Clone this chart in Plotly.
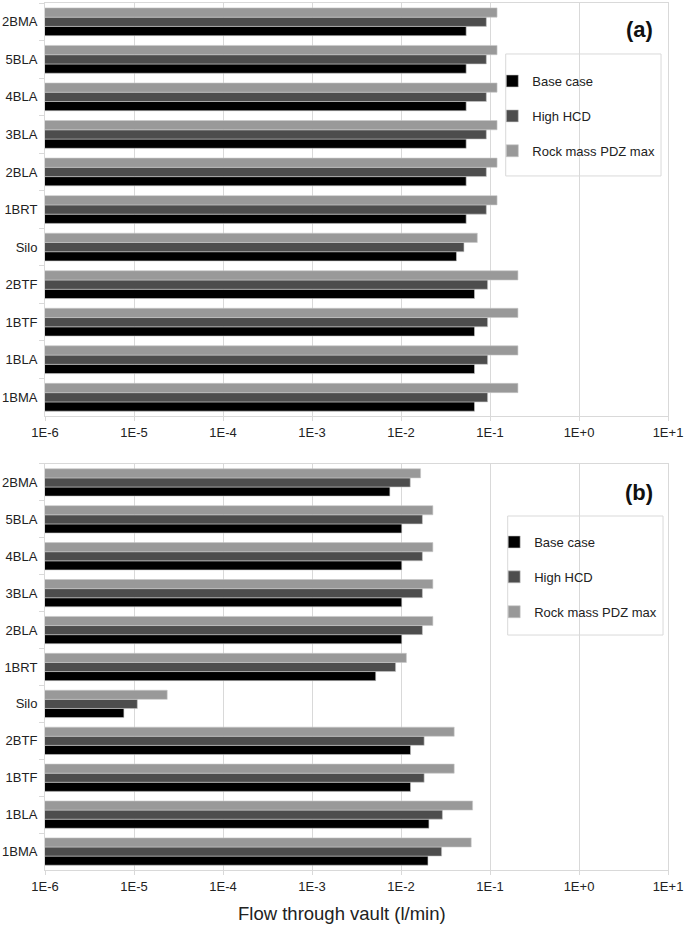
import plotly.graph_objects as go
from plotly.subplots import make_subplots

# categories, bottom to top
vaults = ["1BMA", "1BLA", "1BTF", "2BTF", "Silo", "1BRT", "2BLA", "3BLA", "4BLA", "5BLA", "2BMA"]

# panel (a)
a_base = [0.067, 0.067, 0.067, 0.067, 0.042, 0.054, 0.054, 0.054, 0.054, 0.054, 0.054]
a_hcd = [0.094, 0.094, 0.094, 0.094, 0.051, 0.091, 0.091, 0.091, 0.091, 0.091, 0.091]
a_rock = [0.206, 0.206, 0.206, 0.206, 0.072, 0.12, 0.12, 0.12, 0.12, 0.12, 0.12]

# panel (b)
b_base = [0.0201, 0.0206, 0.0128, 0.0128, 7.7e-6, 0.0052, 0.0102, 0.0102, 0.0102, 0.0102, 0.0075]
b_hcd = [0.0286, 0.0292, 0.0182, 0.0182, 1.09e-5, 0.0087, 0.0174, 0.0174, 0.0174, 0.0174, 0.0127]
b_rock = [0.0615, 0.0637, 0.0396, 0.0396, 2.36e-5, 0.0115, 0.0228, 0.0228, 0.0228, 0.0228, 0.0166]

series_names = ["Base case", "High HCD", "Rock mass PDZ max"]
colors = ["#000000", "#4d4d4d", "#999999"]

tick_vals = [1e-6, 1e-5, 1e-4, 1e-3, 1e-2, 1e-1, 1, 10]
tick_text = ["1E-6", "1E-5", "1E-4", "1E-3", "1E-2", "1E-1", "1E+0", "1E+1"]

FONT = "Liberation Sans, Arial"
GRID = "#d9d9d9"

fig = make_subplots(rows=2, cols=1)

panels = [(1, "legend", [a_base, a_hcd, a_rock]), (2, "legend2", [b_base, b_hcd, b_rock])]
for row, leg, data in panels:
    for name, col, vals in zip(series_names, colors, data):
        fig.add_trace(go.Bar(
            y=vaults, x=vals, name=name, orientation="h",
            marker=dict(color=col, line=dict(color="#c8c8c8", width=0.6)),
            legend=leg, legendgroup=name + leg,
        ), row=row, col=1)

legend_style = dict(xanchor="left", yanchor="top", borderwidth=0, bgcolor="rgba(0,0,0,0)",
                    tracegroupgap=15, itemwidth=30,
                    font=dict(family=FONT, size=13, color="#222"))

fig.update_layout(
    width=685, height=933,
    margin=dict(l=45, r=17, t=3, b=63),
    barmode="group", bargap=0.26, bargroupgap=0,
    plot_bgcolor="white", paper_bgcolor="white",
    font=dict(family=FONT, size=13, color="#222"),
    showlegend=True,
    legend=dict(x=0.718, y=0.9273, **legend_style),
    legend2=dict(x=0.721, y=0.3956, **legend_style),
)

fig.update_layout(yaxis=dict(domain=[0.5236, 1.0]), yaxis2=dict(domain=[0.0, 0.4683]))

# legend frames
fig.add_shape(type="rect", xref="paper", yref="paper", x0=0.7395, x1=0.9888, y0=0.8005, y1=0.9412,
              line=dict(color=GRID, width=1), fillcolor="white", layer="below")
fig.add_shape(type="rect", xref="paper", yref="paper", x0=0.7427, x1=0.992, y0=0.2710, y1=0.4083,
              line=dict(color=GRID, width=1), fillcolor="white", layer="below")

fig.update_xaxes(type="log", range=[-6, 1], tickvals=tick_vals, ticktext=tick_text,
                 showgrid=True, gridcolor=GRID, showline=True, linecolor=GRID, mirror=True,
                 ticks="outside", ticklen=4, tickcolor=GRID, zeroline=False, automargin=False,
                 tickfont=dict(family=FONT, size=13))
fig.update_yaxes(showline=True, linecolor=GRID, mirror=True, ticks="outside",
                 ticklen=5, tickcolor=GRID, tickson="boundaries", showgrid=False,
                 automargin=False, ticklabelstandoff=4, tickfont=dict(family=FONT, size=13))

# x axis title
fig.add_annotation(text="Flow through vault (l/min)", xref="paper", yref="paper",
                   x=0.4767, y=-0.0496, xanchor="center", yanchor="middle", showarrow=False,
                   font=dict(family=FONT, size=18.5, color="#222"))

fig.add_annotation(text="<b>(a)</b>", xref="paper", yref="paper", x=0.979, y=0.969,
                   xanchor="right", yanchor="middle", showarrow=False,
                   font=dict(family=FONT, size=22, color="#111"))
fig.add_annotation(text="<b>(b)</b>", xref="paper", yref="paper", x=0.979, y=0.435,
                   xanchor="right", yanchor="middle", showarrow=False,
                   font=dict(family=FONT, size=22, color="#111"))

fig.write_html("out.html", config={"displayModeBar": False},
               post_script="document.body.style.margin='0';")
